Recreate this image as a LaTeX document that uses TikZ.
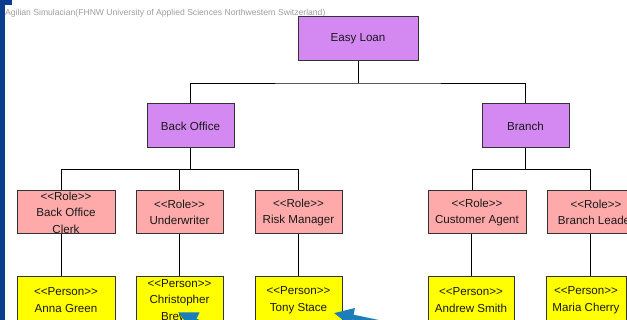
\documentclass[tikz,border=0pt]{standalone}
\usepackage{fontspec}
\setmainfont{Liberation Sans}
\usetikzlibrary{arrows.meta}
\definecolor{orgpurple}{HTML}{D489F2}
\definecolor{rolepink}{HTML}{FFAAAA}
\definecolor{personyellow}{HTML}{FFFF00}
\definecolor{ptrblue}{HTML}{1B7DBA}
\definecolor{barblue}{HTML}{0B3D8E}
% stereotype brackets, kept apart so they do not turn into guillemets
\newcommand\stereo[1]{<\kern0pt<#1>\kern0pt>}

\begin{document}
\begin{tikzpicture}[x=1pt,y=-1pt,>=Latex,
  box/.style={draw=black!80,line width=1pt,inner sep=0pt,align=center,
    text=black!90,font=\fontsize{11.6}{16.5}\selectfont},
  org/.style={box,fill=orgpurple,minimum height=44pt},
  role/.style={box,fill=rolepink,minimum height=43pt},
  person/.style={box,fill=personyellow,minimum height=46pt},
  link/.style={line width=0.9pt},
  pointer/.style={draw=ptrblue,line width=5pt,-{Triangle[length=20pt,width=17pt]}}]
\useasboundingbox (0,0) rectangle (627,320);
\clip (0,0) rectangle (627,320);
\fill[white] (0,0) rectangle (627,320);
\fill[barblue] (0,0) rectangle (5,320);
\fill[barblue] (0,0) rectangle (12,5);
\node[anchor=base west,inner sep=0pt,text=black!38,font=\fontsize{8.6}{10}\selectfont] (credit) at (5,16)
  {Agilian Simulacian(FHNW University of Applied Sciences Northwestern Switzerland)};

% units
\node[org,minimum width=120pt] (easy) at (358,39) {Easy Loan};
\node[org,minimum width=87pt] (bo) at (190.5,126) {Back Office};
\node[org,minimum width=87pt] (branch) at (525.5,126) {Branch};

% roles
\node[role,minimum width=98pt] (clerk) at (66,212.5) {\stereo{Role}\\Back Office\\Clerk};
\node[role,minimum width=87pt] (uw) at (179.5,212.5) {\stereo{Role}\\Underwriter};
\node[role,minimum width=87pt] (risk) at (298.5,212.5) {\stereo{Role}\\Risk Manager};
\node[role,minimum width=98pt] (agent) at (477,212.5) {\stereo{Role}\\Customer Agent};
\node[role,minimum width=98pt] (leader) at (596,212.5) {\stereo{Role}\\Branch Leader};

% persons
\node[person,minimum width=98pt] (anna) at (66,300) {\stereo{Person}\\Anna Green};
\node[person,minimum width=87pt] (chris) at (179.5,300) {\stereo{Person}\\Christopher\\Brewer};
\node[person,minimum width=87pt] (tony) at (298.5,300) {\stereo{Person}\\Tony Stace};
\node[person,minimum width=86pt] (andrew) at (471,300) {\stereo{Person}\\Andrew Smith};
\node[person,minimum width=80pt] (maria) at (586,300) {\stereo{Person}\\Maria Cherry};

% tree lines
\draw[link] (easy.south) -- ++(0,21.5) coordinate (jtop);
\draw[link] (bo.north) |- (jtop) -| (branch.north);
\draw[link] (bo.south) -- ++(0,21) coordinate (jbo);
\draw[link] ([xshift=-5pt]clerk.north) |- (jbo) -| (risk.north);
\draw[link] (uw.north) -- (uw.north |- jbo);
\draw[link] (branch.south) -- ++(0,21) coordinate (jbr);
\draw[link] ([xshift=-5pt]agent.north) |- (jbr) -| ([xshift=-6pt]leader.north);

\draw[link] ([xshift=-5pt]clerk.south) -- ([xshift=-5pt]anna.north);
\draw[link] (uw.south) -- (chris.north);
\draw[link] (risk.south) -- (tony.north);
\draw[link] (andrew.north) -- (andrew.north |- agent.south);
\draw[link] ([xshift=-6pt]leader.south) -- ([xshift=4pt]maria.north);

% pointers
\coordinate (ptrA) at (222,334);
\coordinate (ptrB) at (395,326);
\draw[pointer] (ptrA) -- ([shift={(-2,12)}]chris.center);
\draw[pointer] (ptrB) -- ([shift={(-9,13)}]tony.east);
\end{tikzpicture}
\end{document}
